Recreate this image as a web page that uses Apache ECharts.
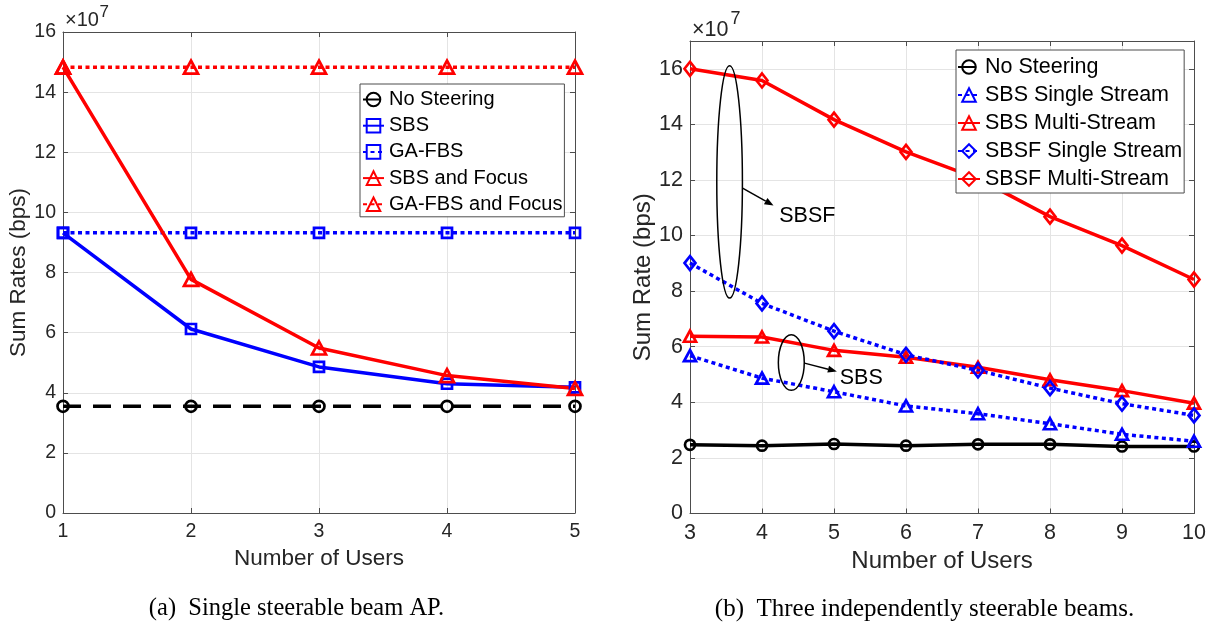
<!DOCTYPE html>
<html><head><meta charset="utf-8">
<script src="https://cdn.jsdelivr.net/npm/echarts@6/dist/echarts.min.js"></script>
<style>html,body{margin:0;padding:0;background:#fff}#c{width:1210px;height:626px}</style>
</head><body><div id="c"></div>
<script>
// ---------- data (values in units of 1e7 bps) ----------
const usersA = [1, 2, 3, 4, 5];
const noSteerA = [3.55, 3.55, 3.55, 3.55, 3.55];
const sbsA = [9.32, 6.12, 4.86, 4.30, 4.18];
const gaFbsA = [9.32, 9.32, 9.32, 9.32, 9.32];
const sbsFocusA = [14.83, 7.77, 5.49, 4.57, 4.14];
const gaFbsFocusA = [14.83, 14.83, 14.83, 14.83, 14.83];

const usersB = [3, 4, 5, 6, 7, 8, 9, 10];
const noSteerB = [2.47, 2.44, 2.50, 2.44, 2.49, 2.49, 2.41, 2.41];
const sbsSingleB = [5.68, 4.87, 4.38, 3.87, 3.59, 3.23, 2.85, 2.60];
const sbsMultiB = [6.38, 6.35, 5.87, 5.62, 5.26, 4.81, 4.42, 3.97];
const sbsfSingleB = [9.01, 7.56, 6.56, 5.71, 5.15, 4.51, 3.95, 3.53];
const sbsfMultiB = [16.0, 15.58, 14.17, 13.01, 12.05, 10.68, 9.64, 8.42];

const namesA = ['No Steering', 'SBS', 'GA-FBS', 'SBS and Focus', 'GA-FBS and Focus'];
const namesB = ['No Steering', 'SBS Single Stream', 'SBS Multi-Stream', 'SBSF Single Stream', 'SBSF Multi-Stream'];

// annotation anchors (data coords of right panel)
const sbsfEllipse = {cx: 3.55, cy: 11.93, rx: 0.178, ry: 4.18};
const sbsfArrow = [[3.73, 11.71], [4.16, 11.08]];
const sbsfText = [4.24, 10.69];
const sbsEllipse = {cx: 4.407, cy: 5.43, rx: 0.18, ry: 1.0};
const sbsArrow = [[4.59, 5.41], [5.04, 5.11]];
const sbsText = [5.08, 4.88];

// ---------- styling ----------
const FONT = "'Liberation Sans', Arial, Helvetica, sans-serif";
const SERIF = "'Liberation Serif', 'Times New Roman', serif";
const RED = '#ff0000', BLUE = '#0000ff', BLACK = '#000000';
const AXC = '#4d4d4d', TXT = '#262626', GRIDC = '#e4e4e4';

function pairs(xs, ys) { return xs.map((x, i) => [x, ys[i]]); }
function mk(name, xs, ys, ax, color, ltype, symbol, size) {
  return {
    type: 'line', name: name, xAxisIndex: ax, yAxisIndex: ax,
    data: pairs(xs, ys), symbol: symbol, symbolSize: size, showSymbol: true,
    lineStyle: {color: color, width: 3.5, type: ltype, cap: 'butt'},
    itemStyle: {color: 'rgba(255,255,255,0)', borderColor: color, borderWidth: 2.7},
    emphasis: {disabled: true}, animation: false
  };
}
const DOT = [4, 3.5], DASH = [18, 12];

function xAx(grid, min, max, pos, main, fs, name, gap, nfs) {
  return {
    type: 'value', gridIndex: grid, min: min, max: max, interval: 1, position: pos,
    axisLine: {show: true, onZero: false, lineStyle: {color: AXC, width: 1}},
    axisTick: {show: true, inside: true, length: 5, lineStyle: {color: AXC}},
    axisLabel: {show: main, fontSize: fs, color: TXT, fontFamily: FONT, margin: 9},
    splitLine: {show: main, lineStyle: {color: GRIDC, width: 1}},
    name: main ? name : '', nameLocation: 'middle', nameGap: gap,
    nameTextStyle: {fontSize: nfs, color: TXT, fontFamily: FONT}
  };
}
function yAx(grid, min, max, pos, main, fs, name, gap, nfs) {
  return {
    type: 'value', gridIndex: grid, min: min, max: max, interval: 2, position: pos,
    axisLine: {show: true, onZero: false, lineStyle: {color: AXC, width: 1}},
    axisTick: {show: true, inside: true, length: 5, lineStyle: {color: AXC}},
    axisLabel: {show: main, fontSize: fs, color: TXT, fontFamily: FONT, margin: 7,
      formatter: v => (v > 16 ? '' : String(v))},
    splitLine: {show: main, lineStyle: {color: GRIDC, width: 1}},
    name: main ? name : '', nameLocation: 'middle', nameGap: gap,
    nameTextStyle: {fontSize: nfs, color: TXT, fontFamily: FONT}
  };
}

const chart = echarts.init(document.getElementById('c'), null, {renderer: 'canvas'});

const option = {
  backgroundColor: '#fff',
  animation: false,
  grid: [
    {left: 63, top: 32, width: 512, height: 481, show: false},
    {left: 690, top: 41, width: 504, height: 472.5, show: false}
  ],
  xAxis: [
    xAx(0, 1, 5, 'bottom', true, 19.5, 'Number of Users', 32, 22.5),
    xAx(0, 1, 5, 'top', false, 19, '', 0, 20),
    xAx(1, 3, 10, 'bottom', true, 21.5, 'Number of Users', 31, 24),
    xAx(1, 3, 10, 'top', false, 21, '', 0, 20)
  ],
  yAxis: [
    yAx(0, 0, 16, 'left', true, 19.5, 'Sum Rates (bps)', 33, 22.5),
    yAx(0, 0, 16, 'right', false, 19, '', 0, 20),
    yAx(1, 0, 17, 'left', true, 21.5, 'Sum Rate (bps)', 35, 24),
    yAx(1, 0, 17, 'right', false, 21, '', 0, 20)
  ],
  legend: [
    {
      data: namesA, orient: 'vertical', left: 360, top: 84,
      itemWidth: 21, itemHeight: 17, itemGap: 5.2,
      padding: [5, 2, 2, 2],
      backgroundColor: '#fff', borderColor: AXC, borderWidth: 1,
      textStyle: {fontSize: 20, color: '#000', fontFamily: FONT, lineHeight: 21},
      selectedMode: false, z: 20
    },
    {
      data: namesB, orient: 'vertical', left: 956, top: 50,
      itemWidth: 22, itemHeight: 17, itemGap: 6,
      padding: [6, 2, 3, 1],
      backgroundColor: '#fff', borderColor: AXC, borderWidth: 1,
      textStyle: {fontSize: 21.5, color: '#000', fontFamily: FONT, lineHeight: 22},
      selectedMode: false, z: 20
    }
  ],
  series: [
    mk(namesA[0], usersA, noSteerA, 0, BLACK, DASH, 'circle', 11),
    mk(namesA[1], usersA, sbsA, 0, BLUE, 'solid', 'rect', 10),
    mk(namesA[2], usersA, gaFbsA, 0, BLUE, DOT, 'rect', 10),
    mk(namesA[3], usersA, sbsFocusA, 0, RED, 'solid', 'triangle', [14, 13]),
    mk(namesA[4], usersA, gaFbsFocusA, 0, RED, DOT, 'triangle', [14, 13]),
    mk(namesB[0], usersB, noSteerB, 2, BLACK, 'solid', 'circle', 10),
    mk(namesB[1], usersB, sbsSingleB, 2, BLUE, DOT, 'triangle', [12, 11]),
    mk(namesB[2], usersB, sbsMultiB, 2, RED, 'solid', 'triangle', [12, 11]),
    mk(namesB[3], usersB, sbsfSingleB, 2, BLUE, DOT, 'diamond', [11, 14]),
    mk(namesB[4], usersB, sbsfMultiB, 2, RED, 'solid', 'diamond', [11, 14])
  ]
};
chart.setOption(option);

// ---------- graphics: exponent labels, captions, annotations ----------
const P = (p) => chart.convertToPixel({xAxisIndex: 2, yAxisIndex: 2}, p);
const scaleX = P([4, 0])[0] - P([3, 0])[0];
const scaleY = P([3, 0])[1] - P([3, 1])[1];

function ellipseG(e) {
  const c = P([e.cx, e.cy]);
  return {type: 'ellipse', z: 30, shape: {cx: c[0], cy: c[1], rx: e.rx * scaleX, ry: e.ry * scaleY},
    style: {fill: 'none', stroke: '#000', lineWidth: 1.5}};
}
function arrowG(a) {
  const p1 = P(a[0]), p2 = P(a[1]);
  const dx = p2[0] - p1[0], dy = p2[1] - p1[1];
  const L = Math.sqrt(dx * dx + dy * dy), ux = dx / L, uy = dy / L;
  const hl = 9, hw = 3.5;
  const bx = p2[0] - ux * hl, by = p2[1] - uy * hl;
  return [
    {type: 'line', z: 30, shape: {x1: p1[0], y1: p1[1], x2: bx, y2: by}, style: {stroke: '#000', lineWidth: 1.5}},
    {type: 'polygon', z: 30, shape: {points: [[p2[0], p2[1]], [bx - uy * hw, by + ux * hw], [bx + uy * hw, by - ux * hw]]},
      style: {fill: '#000'}}
  ];
}
function textG(t, p, size) {
  const q = P(p);
  return {type: 'text', z: 30, x: q[0], y: q[1],
    style: {text: t, fill: '#000', font: size + 'px ' + FONT, verticalAlign: 'middle', align: 'left'}};
}

const graphics = [
  {type: 'text', x: 65, y: 20, style: {text: '\u00d710', fill: TXT, font: '20px ' + FONT, verticalAlign: 'middle'}},
  {type: 'text', x: 99.5, y: 12.5, style: {text: '7', fill: TXT, font: '17px ' + FONT, verticalAlign: 'middle'}},
  {type: 'text', x: 692, y: 30, style: {text: '\u00d710', fill: TXT, font: '21.5px ' + FONT, verticalAlign: 'middle'}},
  {type: 'text', x: 730.5, y: 19, style: {text: '7', fill: TXT, font: '18px ' + FONT, verticalAlign: 'middle'}},
  {type: 'text', x: 296.5, y: 609, style: {text: '(a)  Single steerable beam AP.', fill: '#000',
    font: '24.5px ' + SERIF, align: 'center', verticalAlign: 'middle'}},
  {type: 'text', x: 924.5, y: 609, style: {text: '(b)  Three independently steerable beams.', fill: '#000',
    font: '25px ' + SERIF, align: 'center', verticalAlign: 'middle'}},
  ellipseG(sbsfEllipse),
  ...arrowG(sbsfArrow),
  textG('SBSF', sbsfText, 21.5),
  ellipseG(sbsEllipse),
  ...arrowG(sbsArrow),
  textG('SBS', sbsText, 21.5)
];
chart.setOption({graphic: {elements: graphics}});
</script>
</body></html>
